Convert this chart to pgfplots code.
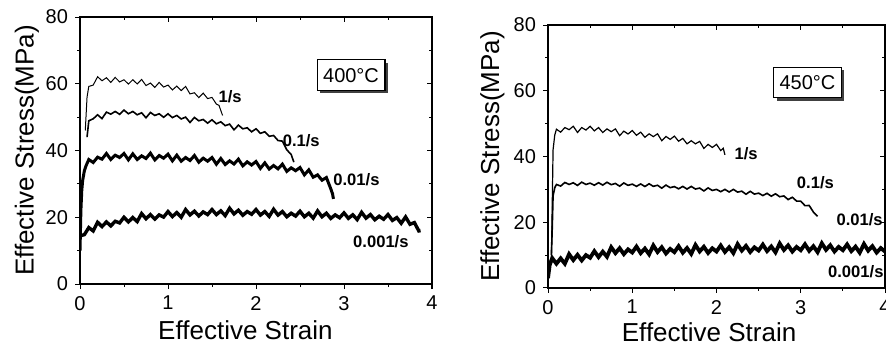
\documentclass[border=0pt]{standalone}
\usepackage{pgfplots}
\pgfplotsset{compat=1.18}
\usepackage{fontspec}
\setmainfont{Liberation Sans}
\usetikzlibrary{shadows}
\pgfplotsset{
  base/.style={scale only axis, xmin=0, xmax=4, ymin=0, ymax=80,
    xtick={0,1,2,3,4}, ytick={0,20,40,60,80},
    minor x tick num=1, minor y tick num=1,
    major tick length=2.5pt, minor tick length=1.5pt,
    tick style={black, line width=0.5pt},
    axis line style={line width=0.6pt},
    ticklabel style={font=\fontsize{10}{12}\selectfont},
    label style={font=\fontsize{13}{15}\selectfont},
    /pgf/number format/assume math mode=true},
  main/.style={base, tick align=outside, xtick pos=left, ytick pos=left},
  over/.style={base, tick align=inside, xtick pos=right, ytick pos=right,
    xticklabels={}, yticklabels={}, axis line style={draw=none}}
}
\tikzset{
  lab/.style={anchor=west, font=\fontsize{8.3}{10}\selectfont\bfseries, inner sep=0pt},
  tbox/.style={draw, fill=white, line width=0.6pt, inner xsep=3pt, inner ysep=4pt,
    text height=7.2pt, text depth=0pt, font=\fontsize{10}{12}\selectfont,
    general shadow={fill=black!75, shadow xshift=1.5pt, shadow yshift=-1.5pt}}
}
\begin{document}
\begin{tikzpicture}
\useasboundingbox (0,0) rectangle (443pt,173.5pt);
% ---------------- left panel 400 C
\begin{axis}[main, at={(40pt,31.5pt)}, anchor=south west, width=176pt, height=133.5pt,
  xlabel={Effective Strain}, ylabel={Effective Stress(MPa)},
  xlabel style={at={(axis description cs:0.47,-0.172)}, anchor=center},
  ylabel style={at={(axis description cs:-0.151,0.5)}, anchor=center, rotate=0}]
% 1/s
\addplot[black, line width=0.5pt] coordinates {
(0.06,46) (0.08,56) (0.10,59.2) (0.15,59.6) (0.20,62.1) (0.25,60.9) (0.30,61.8) (0.35,60.4)
(0.40,61.9) (0.45,60.55) (0.50,61.2) (0.55,59.9) (0.60,61.2) (0.65,59.95) (0.70,61.3)
(0.75,59.45) (0.80,60.2) (0.85,58.9) (0.90,60.4) (0.95,59.0) (1.00,59.6) (1.05,58.15)
(1.10,59.3) (1.15,57.95) (1.20,59.2) (1.25,56.95) (1.30,57.3) (1.35,55.85) (1.40,57.2)
(1.45,55.55) (1.50,55.9) (1.55,53.9) (1.58,53.5) (1.60,52.0) (1.62,50.5)};
% 0.1/s
\addplot[black, line width=0.8pt] coordinates {
(0.08,44) (0.10,48.9) (0.15,49.5) (0.20,50.7) (0.25,49.55) (0.30,51.5) (0.35,50.9) (0.40,51.7)
(0.45,50.85) (0.50,52.1) (0.55,51.0) (0.60,51.7) (0.65,50.7) (0.70,51.3) (0.75,49.8)
(0.80,51.4) (0.85,50.5) (0.90,51.0) (0.95,49.95) (1.00,51.0) (1.05,49.85) (1.10,50.5)
(1.15,49.45) (1.20,50.0) (1.25,48.4) (1.30,49.9) (1.35,48.9) (1.40,49.3) (1.45,48.2)
(1.50,49.2) (1.55,48.0) (1.60,48.6) (1.65,47.45) (1.70,47.9) (1.75,46.2) (1.80,47.6)
(1.85,46.5) (1.90,46.8) (1.95,45.6) (2.00,46.5) (2.05,45.15) (2.10,45.6) (2.15,44.25)
(2.20,44.5) (2.25,43.0) (2.30,42.8) (2.35,40.2) (2.40,38.8) (2.43,36.5)};
% 0.01/s
\addplot[black, line width=1.5pt] coordinates {
(0.00,10) (0.01,22) (0.02,28) (0.03,31) (0.05,34) (0.07,35.5)
(0.10,37.3) (0.15,36.4) (0.20,38.0) (0.25,37.4) (0.30,39.1) (0.35,37.3) (0.40,38.6)
(0.45,37.9) (0.50,39.1) (0.55,37.2) (0.60,39.0) (0.65,37.3) (0.70,38.4) (0.75,37.6)
(0.80,39.2) (0.85,37.2) (0.90,38.5) (0.95,37.7) (1.00,38.9) (1.05,36.9) (1.10,38.6)
(1.15,36.8) (1.20,37.9) (1.25,37.0) (1.30,38.5) (1.35,36.5) (1.40,37.7) (1.45,36.8)
(1.50,37.9) (1.55,35.9) (1.60,37.6) (1.65,35.8) (1.70,36.9) (1.75,35.95) (1.80,37.4)
(1.85,35.4) (1.90,36.6) (1.95,35.65) (2.00,36.7) (2.05,34.65) (2.10,36.3) (2.15,34.45)
(2.20,35.5) (2.25,34.5) (2.30,35.9) (2.35,33.75) (2.40,34.8) (2.45,33.95) (2.50,34.9)
(2.55,32.7) (2.60,34.2) (2.65,32.0) (2.70,32.7) (2.75,31.1) (2.80,31.9) (2.85,28.5)
(2.87,27.0) (2.88,25.5)};
% 0.001/s
\addplot[black, line width=1.7pt] coordinates {
(0.00,14.4) (0.05,14.8) (0.10,16.9) (0.15,15.9) (0.20,18.5) (0.25,17.2) (0.30,18.6)
(0.35,17.4) (0.40,18.8) (0.45,18.3) (0.50,20.0) (0.55,18.6) (0.60,19.9) (0.65,18.7)
(0.70,21.1) (0.75,19.55) (0.80,20.8) (0.85,19.45) (0.90,20.7) (0.95,20.05) (1.00,21.7)
(1.05,20.2) (1.10,21.4) (1.15,20.0) (1.20,22.3) (1.25,20.7) (1.30,21.8) (1.35,20.4)
(1.40,21.6) (1.45,20.8) (1.50,22.3) (1.55,20.8) (1.60,21.9) (1.65,20.5) (1.70,22.7)
(1.75,21.0) (1.80,22.1) (1.85,20.6) (1.90,21.7) (1.95,20.9) (2.00,22.3) (2.05,20.65)
(2.10,21.7) (2.15,20.25) (2.20,22.4) (2.25,20.65) (2.30,21.7) (2.35,20.15) (2.40,21.2)
(2.45,20.35) (2.50,21.8) (2.55,20.15) (2.60,21.2) (2.65,19.75) (2.70,21.9) (2.75,20.15)
(2.80,21.2) (2.85,19.65) (2.90,20.7) (2.95,19.85) (3.00,21.3) (3.05,19.67) (3.10,20.73)
(3.15,19.3) (3.20,21.47) (3.25,19.73) (3.30,20.8) (3.35,19.25) (3.40,20.3) (3.45,19.4)
(3.50,20.8) (3.55,19.05) (3.60,19.9) (3.65,18.2) (3.70,20.1) (3.75,17.9) (3.80,18.4)
(3.85,15.9) (3.87,16.0)};
\node[lab] at (axis cs:1.57,56) {1/s};
\node[lab] at (axis cs:2.30,43.1) {0.1/s};
\node[lab] at (axis cs:2.875,31.2) {0.01/s};
\node[lab] at (axis cs:3.10,12.6) {0.001/s};
\node[tbox] at (axis cs:3.08,62.6) {400°C};
\end{axis}
\begin{axis}[over, at={(40pt,31.5pt)}, anchor=south west, width=176pt, height=133.5pt]
\end{axis}
% ---------------- right panel 450 C
\begin{axis}[main, at={(274pt,29.5pt)}, anchor=south west, width=168.5pt, height=131.5pt,
  xlabel={Effective Strain}, ylabel={Effective Stress(MPa)},
  xlabel style={at={(axis description cs:0.478,-0.167)}, anchor=center},
  ylabel style={at={(axis description cs:-0.165,0.5)}, anchor=center, rotate=0}]
% 1/s
\addplot[black, line width=0.6pt] coordinates {
(0.04,8) (0.05,25) (0.06,42) (0.08,46.5) (0.10,48.3) (0.15,47.4) (0.20,48.8) (0.25,48.15)
(0.30,49.2) (0.35,47.3) (0.40,48.8) (0.45,48.05) (0.50,49.2) (0.55,47.8) (0.60,48.8)
(0.65,47.3) (0.70,48.4) (0.75,47.55) (0.80,48.4) (0.85,46.35) (0.90,47.7) (0.95,46.85)
(1.00,47.9) (1.05,46.45) (1.10,47.4) (1.15,45.85) (1.20,46.9) (1.25,46.05) (1.30,46.9)
(1.35,44.8) (1.40,46.1) (1.45,45.2) (1.50,46.2) (1.55,44.65) (1.60,45.5) (1.65,43.85)
(1.70,44.8) (1.75,43.85) (1.80,44.6) (1.85,42.45) (1.90,43.7) (1.95,42.75) (2.00,43.7)
(2.05,41.8) (2.08,42.5) (2.10,40.5)};
% 0.1/s
\addplot[black, line width=0.8pt] coordinates {
(0.04,10) (0.05,18) (0.06,28) (0.08,30.5) (0.10,31.5) (0.15,31.0) (0.20,32.1) (0.25,31.5)
(0.30,32.0) (0.35,31.2) (0.40,32.2) (0.45,31.5) (0.50,31.9) (0.55,31.27) (0.60,32.03)
(0.65,31.3) (0.70,32.17) (0.75,31.43) (0.80,31.8) (0.85,30.97) (0.90,31.95) (0.95,31.22)
(1.00,31.6) (1.05,30.92) (1.10,31.65) (1.15,30.87) (1.20,31.7) (1.25,30.92) (1.30,31.25)
(1.35,30.37) (1.40,31.3) (1.45,30.52) (1.50,30.85) (1.55,30.17) (1.60,30.9) (1.65,30.1)
(1.70,30.9) (1.75,30.1) (1.80,30.4) (1.85,29.52) (1.90,30.45) (1.95,29.67) (2.00,30.0)
(2.05,29.3) (2.10,30.0) (2.15,29.2) (2.20,30.0) (2.25,29.17) (2.30,29.45) (2.35,28.52)
(2.40,29.4) (2.45,28.57) (2.50,28.85) (2.55,28.12) (2.60,28.8) (2.65,27.92) (2.70,28.65)
(2.75,27.77) (2.80,28.0) (2.85,26.9) (2.90,27.6) (2.95,26.45) (3.00,26.4) (3.05,25.05)
(3.10,25.1) (3.15,23.1) (3.20,21.8)};
% 0.01/s and 0.001/s band
\addplot[black, line width=1.9pt] coordinates {
(0.00,3) (0.02,7) (0.05,9.1) (0.10,7.4) (0.15,9.0) (0.20,7.4) (0.25,10.3) (0.30,8.5)
(0.35,10.1) (0.40,8.4) (0.45,10.0) (0.50,9.2) (0.55,11.2) (0.60,9.4) (0.65,11.05)
(0.70,9.5) (0.75,12.4) (0.80,10.6) (0.85,12.1) (0.90,10.3) (0.95,11.75) (1.00,10.8)
(1.05,12.6) (1.10,10.6) (1.15,12.0) (1.20,10.25) (1.25,12.95) (1.30,10.95) (1.35,12.4)
(1.40,10.5) (1.45,11.9) (1.50,10.9) (1.55,12.72) (1.60,10.74) (1.65,12.16) (1.70,10.38)
(1.75,13.1) (1.80,11.12) (1.85,12.54) (1.90,10.66) (1.95,12.08) (2.00,11.1) (2.05,12.93)
(2.10,10.96) (2.15,12.39) (2.20,10.62) (2.25,13.35) (2.30,11.38) (2.35,12.81) (2.40,10.94)
(2.45,12.37) (2.50,11.4) (2.55,13.21) (2.60,11.22) (2.65,12.63) (2.70,10.84) (2.75,13.55)
(2.80,11.56) (2.85,12.97) (2.90,11.08) (2.95,12.49) (3.00,11.5) (3.05,13.3) (3.10,11.3)
(3.15,12.7) (3.20,10.9) (3.25,13.6) (3.30,11.6) (3.35,13.0) (3.40,11.1) (3.45,12.5)
(3.50,11.5) (3.55,13.26) (3.60,11.22) (3.65,12.58) (3.70,10.74) (3.75,13.4) (3.80,11.36)
(3.85,12.72) (3.90,10.78) (3.95,12.14) (4.00,11.1)};
\node[lab] at (axis cs:2.21,40.8) {1/s};
\node[lab] at (axis cs:2.95,31.9) {0.1/s};
\node[lab] at (axis cs:3.42,20.7) {0.01/s};
\node[lab] at (axis cs:3.32,4.9) {0.001/s};
\node[tbox] at (axis cs:3.08,62.5) {450°C};
\end{axis}
\begin{axis}[over, at={(274pt,29.5pt)}, anchor=south west, width=168.5pt, height=131.5pt]
\end{axis}
\end{tikzpicture}
\end{document}
